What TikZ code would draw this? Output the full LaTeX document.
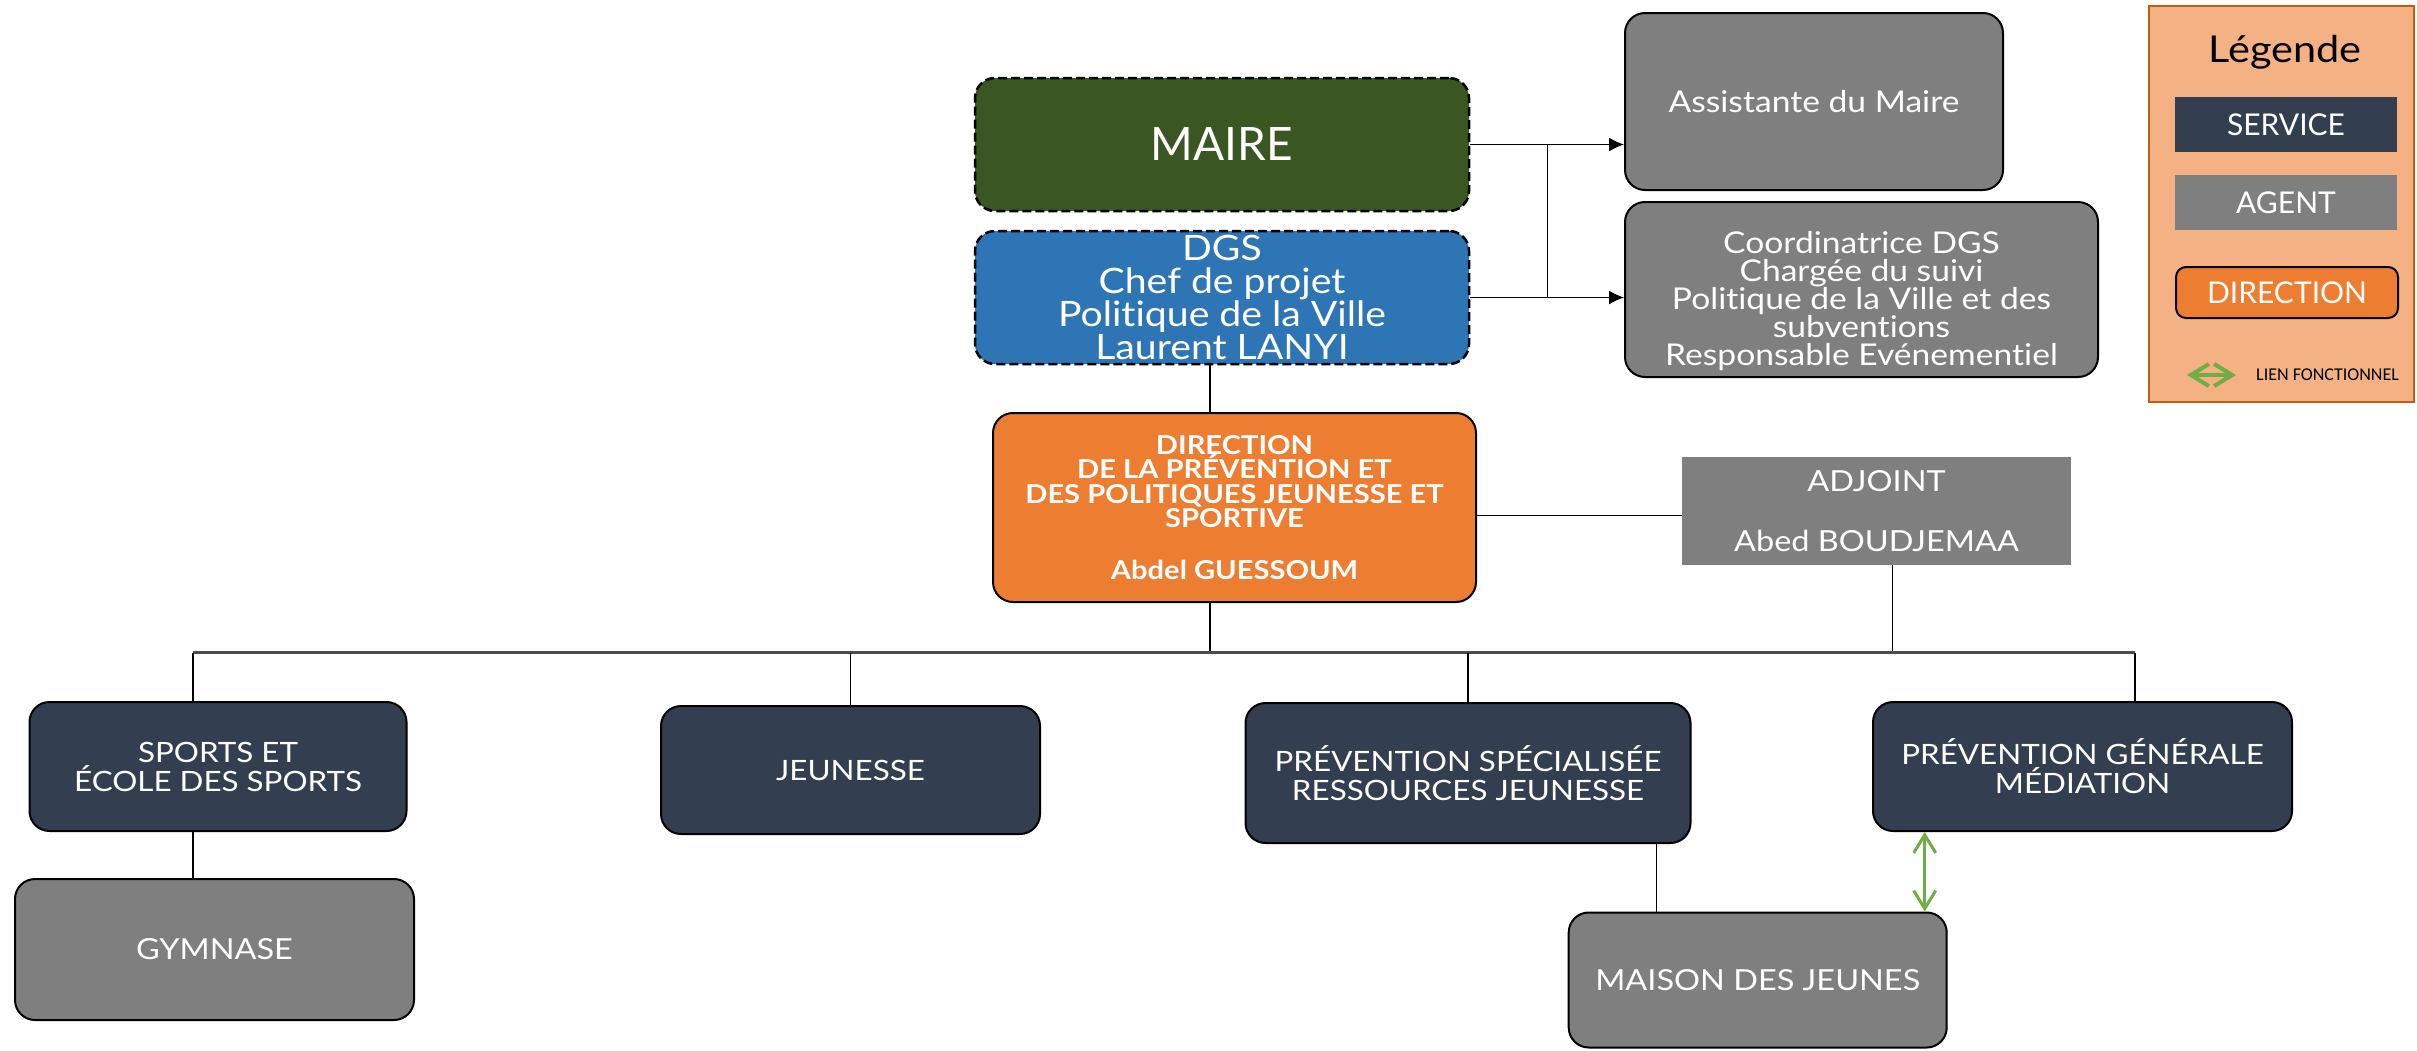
\documentclass[tikz,border=0pt]{standalone}
\usepackage{fontspec}
\setmainfont{Lato}[FakeStretch=1.12, Ligatures=NoCommon]
\newfontfamily\plainfont{Lato}[Ligatures=NoCommon]
\newfontfamily\calibri{Carlito}
\usepackage{xcolor}
\usepackage{tikz}
\usetikzlibrary{shapes, arrows.meta, calc, positioning}
\definecolor{maireGreen}{HTML}{3A5623}
\definecolor{dgsBlue}{HTML}{2E75B6}
\definecolor{dirOrange}{HTML}{ED7D31}
\definecolor{agentGray}{HTML}{7F7F7F}
\definecolor{serviceBlue}{HTML}{333F50}
\definecolor{legendFill}{HTML}{F4B183}
\definecolor{legendLine}{HTML}{C55A11}
\definecolor{lienGreen}{HTML}{70AD47}
\tikzstyle{box} = [rectangle, rounded corners=20pt, draw=black, line width=2pt,
    text=white, align=center, inner sep=0pt]
\tikzstyle{line} = [draw, line width=1.3pt]

\begin{document}
\begin{tikzpicture}[x=1pt, y=-1pt,
    dashbox/.style={box, dash pattern=on 9pt off 4pt, line width=2.5pt},
    service/.style={box, fill=serviceBlue, font=\fontsize{28}{29}\selectfont},
    agent/.style={box, fill=agentGray, font=\fontsize{29}{29}\selectfont},
    legitem/.style={rectangle, text=white, inner sep=0pt, minimum width=222pt,
        minimum height=55pt, font=\plainfont\fontsize{30}{30}\selectfont},
    bus/.style={draw=black!70, line width=2.2pt},
    arrowto/.style={line, -{Latex[length=15pt,width=14pt]}},
    lien/.style={draw=lienGreen, {Straight Barb[length=18pt,width=22pt]}-{Straight Barb[length=18pt,width=22pt]}}
    ]
    \useasboundingbox (0,0) rectangle (2417,1050);

    \node[dashbox, fill=maireGreen, minimum width=494pt, minimum height=133pt,
        font=\plainfont\fontsize{46}{46}\selectfont] (maire) at (1222,144.5) {MAIRE};
    \node[dashbox, fill=dgsBlue, minimum width=494pt, minimum height=133pt,
        font=\fontsize{35}{33}\selectfont] (dgs) at (1222,297.5)
        {DGS\\Chef de projet\\Politique de la Ville\\Laurent LANYI};
    \node[agent, minimum width=378pt, minimum height=177pt,
        font=\fontsize{30}{30}\selectfont] (assistante) at (1814,101.5) {Assistante du Maire};
    \node[agent, minimum width=473pt, minimum height=175pt,
        font=\fontsize{30}{28}\selectfont] (coordinatrice) at (1861.5,289.5)
        {\rule{0pt}{46pt}Coordinatrice DGS\\Chargée du suivi\\Politique de la Ville et des\\subventions\\Responsable Evénementiel};
    \node[box, fill=dirOrange, minimum width=483pt, minimum height=189pt,
        font=\bfseries\fontsize{26}{24.5}\selectfont] (direction) at (1234.5,507.5)
        {DIRECTION\\DE LA PRÉVENTION ET\\DES POLITIQUES JEUNESSE ET\\SPORTIVE\\[27pt]Abdel GUESSOUM};
    \node[rectangle, fill=agentGray, text=white, align=center, inner sep=0pt,
        minimum width=389pt, minimum height=108pt,
        font=\fontsize{29}{30}\selectfont] (adjoint) at (1876.5,511)
        {ADJOINT\\[30pt]Abed BOUDJEMAA};

    \node[service, minimum width=377pt, minimum height=129pt] (sports) at (218,766.5)
        {SPORTS ET\\ÉCOLE DES SPORTS};
    \node[service, minimum width=379pt, minimum height=128pt] (jeunesse) at (850.5,770) {JEUNESSE};
    \node[service, minimum width=445pt, minimum height=140pt] (prevspe) at (1468,773)
        {PRÉVENTION SPÉCIALISÉE\\RESSOURCES JEUNESSE};
    \node[service, minimum width=419pt, minimum height=129pt] (prevgen) at (2082.5,766.5)
        {PRÉVENTION GÉNÉRALE\\MÉDIATION};
    \node[agent, minimum width=399pt, minimum height=141pt] (gymnase) at (214.5,949.5) {GYMNASE};
    \node[agent, minimum width=378pt, minimum height=135pt] (maison) at (1757.7,980) {MAISON DES JEUNES};

    % legende
    \node[rectangle, draw=legendLine, fill=legendFill, line width=2pt, inner sep=0pt,
        minimum width=265pt, minimum height=396pt] (legende) at (2281.5,203.5) {};
    \node[font=\fontsize{37}{37}\selectfont] (legtitle) at (2285,52) {Légende};
    \node[legitem, fill=serviceBlue] (legservice) at (2286,124.5) {SERVICE};
    \node[legitem, fill=agentGray] (legagent) at (2286,202.5) {AGENT};
    \node[box, fill=dirOrange, rounded corners=10pt, minimum width=222pt, minimum height=51pt,
        font=\plainfont\fontsize{30}{30}\selectfont] (legdirection) at (2287,292.5) {DIRECTION};
    \node[font=\calibri\fontsize{18}{18}\selectfont, anchor=west, inner sep=0pt] (legtext) at (2256,375) {LIEN FONCTIONNEL};
    \coordinate (lienL) at (2187,375);
    \coordinate (lienR) at (2236,375);
    \draw[lien, line width=4pt] (lienL) -- (lienR);

    \coordinate (jct) at (1547.5,0);
    \coordinate (busL) at (193,652.5);
    \coordinate (busR) at (2135,652.5);
    \coordinate (trunk) at (1210,652.5);

    \draw[arrowto] (maire.east) -- (maire.east -| assistante.west);
    \draw[arrowto] (dgs.east) -- (dgs.east -| coordinatrice.west);
    \draw[line] (maire.east -| jct) -- (dgs.east -| jct);
    \draw[line] (dgs.south -| trunk) -- (direction.north -| trunk);
    \draw[line] (direction.south -| trunk) -- (trunk);
    \draw[line] ([yshift=-8pt]direction.east) -- ([yshift=-8pt]direction.east -| adjoint.west);
    \draw[line] ([xshift=16pt]adjoint.south) -- ([xshift=16pt]adjoint.south |- busR);

    \draw[bus] (busL) -- (busR);
    \draw[line] (busL) -- (busL |- sports.north);
    \draw[line] (jeunesse.north |- busL) -- (jeunesse.north);
    \draw[line] (prevspe.north |- busL) -- (prevspe.north);
    \draw[line] (busR) -- (busR |- prevgen.north);
    \draw[line] (sports.south -| busL) -- (gymnase.north -| busL);
    \draw[line] ([xshift=-35pt]prevspe.south east) -- ([xshift=-35pt]prevspe.south east |- maison.north);
    \draw[lien, line width=3pt] ([xshift=-23pt]maison.north east) -- ([xshift=-23pt]maison.north east |- prevgen.south);
\end{tikzpicture}
\end{document}
